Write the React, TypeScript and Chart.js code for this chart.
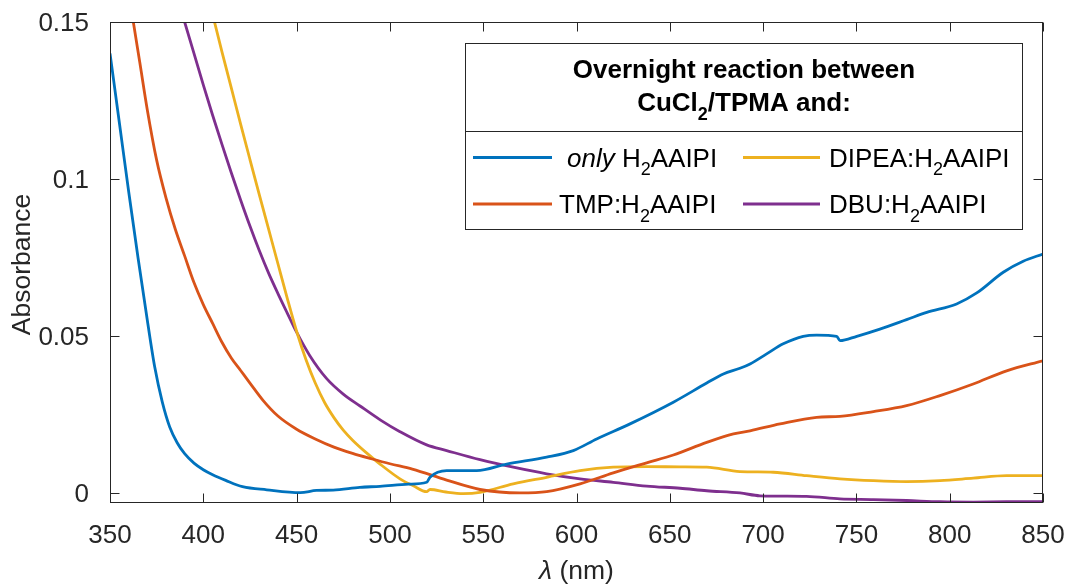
import React, { useEffect, useRef } from "react";
import { Chart, registerables } from "chart.js";

Chart.register(...registerables);

// ---------------- data ----------------
const xTicks = [350, 400, 450, 500, 550, 600, 650, 700, 750, 800, 850];
const yTicks = [0, 0.05, 0.1, 0.15];
const yTickLabels = ["0", "0.05", "0.1", "0.15"];

const blueNm = [350, 355, 360, 365, 370, 374, 378, 382, 386, 390, 395, 400, 405, 412, 421, 434, 452, 460.7, 469.6, 483.9, 494.7, 510, 519.7, 521.5, 530.4, 546.5, 562.6, 584.0, 598.3, 610.8, 628.7, 651.9, 669.8, 678.7, 687.6, 693.0, 701.9, 710.8, 721.5, 728.7, 739.4, 741.2, 750.2, 762.6, 776.9, 787.7, 803.7, 814.5, 828.7, 839.4, 850];
const blueAbs = [0.140, 0.118, 0.096, 0.075, 0.055, 0.040, 0.029, 0.021, 0.016, 0.0125, 0.0095, 0.0074, 0.0058, 0.0040, 0.0020, 0.0010, 0.0001, 0.0008, 0.0009, 0.0018, 0.0021, 0.0028, 0.0034, 0.0050, 0.0071, 0.0071, 0.0092, 0.0114, 0.0135, 0.0172, 0.0220, 0.0289, 0.0350, 0.0379, 0.0397, 0.0411, 0.0443, 0.0475, 0.0499, 0.0503, 0.0499, 0.0485, 0.0499, 0.0522, 0.0552, 0.0575, 0.0602, 0.0637, 0.0703, 0.0738, 0.0761];

const orangeNm = [360, 362.5, 366, 370, 375, 380, 385, 390, 395, 400, 405, 410, 415, 420, 425, 432, 440, 450, 460, 470, 480, 490, 500, 512, 530.4, 548.3, 569.7, 584.0, 601.9, 619.7, 637.6, 651.9, 669.8, 684.1, 693.0, 709.1, 728.7, 741.2, 759.1, 776.9, 794.8, 812.6, 830.5, 850];
const orangeAbs = [0.160, 0.150, 0.137, 0.122, 0.106, 0.094, 0.084, 0.0755, 0.067, 0.060, 0.054, 0.048, 0.043, 0.039, 0.035, 0.0295, 0.0245, 0.0203, 0.0172, 0.0146, 0.0126, 0.0109, 0.0093, 0.0076, 0.0041, 0.0011, 0.0000, 0.0004, 0.0029, 0.0064, 0.0096, 0.0121, 0.0161, 0.0188, 0.0198, 0.0220, 0.0241, 0.0244, 0.0259, 0.0278, 0.0310, 0.0347, 0.0389, 0.0421];

const yellowNm = [404, 406, 410, 415, 420, 425, 430, 435, 440, 445, 450, 455, 460, 465, 470, 475, 480, 487, 494.7, 505.4, 512.5, 519.7, 521.5, 530, 539.3, 548.3, 566.1, 584.0, 601.9, 619.7, 637.6, 655.5, 669.8, 687.6, 705.5, 723.3, 741.2, 759.1, 776.9, 794.8, 812.6, 830.5, 850];
const yellowAbs = [0.155, 0.150, 0.1405, 0.129, 0.1175, 0.1062, 0.095, 0.084, 0.073, 0.062, 0.0515, 0.0425, 0.035, 0.0288, 0.024, 0.020, 0.0168, 0.013, 0.0092, 0.0045, 0.0023, 0.0004, 0.0011, 0.0003, -0.0002, 0.0002, 0.0029, 0.0050, 0.0071, 0.0082, 0.0084, 0.0083, 0.0082, 0.0068, 0.0066, 0.0055, 0.0045, 0.0039, 0.0036, 0.0039, 0.0047, 0.0055, 0.0055];

const purpleNm = [388, 390, 395, 400, 405, 410, 415, 420, 425, 430, 435, 440, 445, 450, 457, 466, 475, 484, 495, 505.4, 519.7, 530.4, 548.3, 566.1, 584.0, 601.9, 619.7, 637.6, 655.5, 669.8, 687.6, 698.3, 723.3, 741.2, 759.1, 776.9, 794.8, 812.6, 830.5, 850];
const purpleAbs = [0.154, 0.150, 0.140, 0.130, 0.1203, 0.111, 0.102, 0.0933, 0.085, 0.0772, 0.070, 0.0635, 0.0573, 0.0512, 0.0438, 0.0365, 0.0315, 0.0277, 0.0232, 0.0195, 0.0153, 0.0135, 0.0106, 0.0082, 0.0061, 0.0045, 0.0034, 0.0022, 0.0015, 0.0007, 0.0000, -0.0009, -0.0011, -0.0019, -0.0021, -0.0024, -0.0028, -0.0029, -0.0028, -0.0028];

const seriesColors = ["#0072BD", "#D95319", "#EDB120", "#7E2F8E"];
const seriesNames = ["only H2AAIPI", "TMP:H2AAIPI", "DIPEA:H2AAIPI", "DBU:H2AAIPI"];

const FONT = "'Liberation Sans', Arial, Helvetica, sans-serif";
const AXIS_COLOR = "#262626";

type Seg = { t: string; italic?: boolean; bold?: boolean; sub?: boolean };

function segFont(s: Seg, size: number) {
  const sz = s.sub ? Math.round(size * 0.68) : size;
  return `${s.italic ? "italic " : ""}${s.bold ? "bold " : ""}${sz}px ${FONT}`;
}
function richWidth(ctx: CanvasRenderingContext2D, segs: Seg[], size: number) {
  let w = 0;
  for (const s of segs) {
    ctx.font = segFont(s, size);
    w += ctx.measureText(s.t).width;
  }
  return w;
}
function drawRich(ctx: CanvasRenderingContext2D, segs: Seg[], x: number, baseline: number, size: number) {
  let cx = x;
  ctx.textBaseline = "alphabetic";
  ctx.textAlign = "left";
  for (const s of segs) {
    ctx.font = segFont(s, size);
    ctx.fillText(s.t, cx, baseline + (s.sub ? size * 0.33 : 0));
    cx += ctx.measureText(s.t).width;
  }
}

const legendRows: { segs: Seg[]; color: number; col: number; row: number }[] = [
  { segs: [{ t: "only", italic: true }, { t: " H" }, { t: "2", sub: true }, { t: "AAIPI" }], color: 0, col: 0, row: 0 },
  { segs: [{ t: "TMP:H" }, { t: "2", sub: true }, { t: "AAIPI" }], color: 1, col: 0, row: 1 },
  { segs: [{ t: "DIPEA:H" }, { t: "2", sub: true }, { t: "AAIPI" }], color: 2, col: 1, row: 0 },
  { segs: [{ t: "DBU:H" }, { t: "2", sub: true }, { t: "AAIPI" }], color: 3, col: 1, row: 1 },
];

const LEG_SIZE = 26;

const framePlugin = {
  id: "matlabFrame",
  afterDatasetsDraw(chart: any) {
    const { ctx, chartArea: a, scales } = chart;
    const xs = scales.x;
    const ys = scales.y;
    ctx.save();
    // axes box
    ctx.strokeStyle = AXIS_COLOR;
    ctx.lineWidth = 1;
    const L = Math.round(a.left) + 0.5;
    const R = Math.round(a.right) - 0.5;
    const T = Math.round(a.top) + 0.5;
    const B = Math.round(a.bottom) - 0.5;
    ctx.strokeRect(L, T, R - L, B - T);
    const tl = 9;
    ctx.beginPath();
    for (const v of xTicks) {
      const px = Math.round(xs.getPixelForValue(v)) + 0.5;
      ctx.moveTo(px, B);
      ctx.lineTo(px, B - tl);
      ctx.moveTo(px, T);
      ctx.lineTo(px, T + tl);
    }
    for (const v of yTicks) {
      const py = Math.round(ys.getPixelForValue(v)) + 0.5;
      ctx.moveTo(L, py);
      ctx.lineTo(L + tl, py);
      ctx.moveTo(R, py);
      ctx.lineTo(R - tl, py);
    }
    ctx.stroke();

    // axis titles
    ctx.fillStyle = AXIS_COLOR;
    ctx.save();
    ctx.translate(23, (a.top + a.bottom) / 2 + 2);
    ctx.rotate(-Math.PI / 2);
    ctx.font = `26.5px ${FONT}`;
    ctx.textAlign = "center";
    ctx.textBaseline = "middle";
    ctx.fillText("Absorbance", 0, 0);
    ctx.restore();
    const xTitle: Seg[] = [{ t: "λ", italic: true }, { t: " (nm)" }];
    const xw = richWidth(ctx, xTitle, 26.5);
    drawRich(ctx, xTitle, (a.left + a.right) / 2 - xw / 2, 579, 26.5);

    // legend box
    const bx0 = 465.5, bx1 = 1022.5, by0 = 43.5, by1 = 229.5, div = 131.5;
    ctx.fillStyle = "#ffffff";
    ctx.fillRect(bx0, by0, bx1 - bx0, by1 - by0);
    ctx.strokeStyle = AXIS_COLOR;
    ctx.lineWidth = 1;
    ctx.strokeRect(bx0, by0, bx1 - bx0, by1 - by0);
    ctx.beginPath();
    ctx.moveTo(bx0, div);
    ctx.lineTo(bx1, div);
    ctx.stroke();

    ctx.fillStyle = "#000000";
    const cx = (bx0 + bx1) / 2;
    const t1: Seg[] = [{ t: "Overnight reaction between", bold: true }];
    const t2: Seg[] = [{ t: "CuCl", bold: true }, { t: "2", bold: true, sub: true }, { t: "/TPMA and:", bold: true }];
    drawRich(ctx, t1, cx - richWidth(ctx, t1, LEG_SIZE) / 2, 78, LEG_SIZE);
    drawRich(ctx, t2, cx - richWidth(ctx, t2, LEG_SIZE) / 2, 111, LEG_SIZE);

    const colLine = [[473, 552], [743, 820]];
    const colText = [[567, 559], [829, 829]];
    const rowY = [157.5, 204];
    for (const r of legendRows) {
      const y = rowY[r.row];
      ctx.strokeStyle = seriesColors[r.color];
      ctx.lineWidth = 2.8;
      ctx.beginPath();
      ctx.moveTo(colLine[r.col][0], y);
      ctx.lineTo(colLine[r.col][1], y);
      ctx.stroke();
      ctx.fillStyle = "#000000";
      drawRich(ctx, r.segs, colText[r.col][r.row], y + 9, LEG_SIZE);
    }
    ctx.restore();
  },
};

function pts(nm: number[], abs: number[]) {
  return nm.map((x, i) => ({ x, y: abs[i] }));
}

export default function App() {
  const ref = useRef<HTMLCanvasElement | null>(null);
  useEffect(() => {
    document.body.style.margin = "0";
    if (!ref.current) return;
    const data = [
      pts(blueNm, blueAbs),
      pts(orangeNm, orangeAbs),
      pts(yellowNm, yellowAbs),
      pts(purpleNm, purpleAbs),
    ];
    const chart = new Chart(ref.current, {
      type: "line",
      data: {
        datasets: data.map((d, i) => ({
          label: seriesNames[i],
          data: d,
          borderColor: seriesColors[i],
          backgroundColor: seriesColors[i],
          borderWidth: 2.8,
          pointRadius: 0,
          fill: false,
          cubicInterpolationMode: "monotone" as const,
        })),
      },
      options: {
        responsive: false,
        animation: false,
        layout: { padding: { top: 22, right: 24, left: 0, bottom: 0 } },
        plugins: { legend: { display: false }, tooltip: { enabled: false } },
        scales: {
          x: {
            type: "linear",
            min: 350,
            max: 850,
            grid: { display: false },
            border: { display: false },
            afterBuildTicks: (axis: any) => {
              axis.ticks = xTicks.map((v) => ({ value: v }));
            },
            afterFit: (axis: any) => {
              axis.height = 82;
              axis.paddingLeft = 0;
              axis.paddingRight = 0;
            },
            ticks: {
              autoSkip: false,
              maxRotation: 0,
              padding: 9,
              color: AXIS_COLOR,
              font: { family: FONT, size: 26 },
              callback: (v: any) => String(v),
            },
          },
          y: {
            type: "linear",
            min: -0.0032,
            max: 0.15,
            grid: { display: false },
            border: { display: false },
            afterBuildTicks: (axis: any) => {
              axis.ticks = yTicks.map((v) => ({ value: v }));
            },
            afterFit: (axis: any) => {
              axis.width = 110;
              axis.paddingTop = 0;
              axis.paddingBottom = 0;
            },
            ticks: {
              padding: 13,
              labelOffset: 2,
              color: AXIS_COLOR,
              font: { family: FONT, size: 26 },
              callback: (v: any) => {
                const i = yTicks.findIndex((t) => Math.abs(t - Number(v)) < 1e-9);
                return i >= 0 ? yTickLabels[i] : "";
              },
            },
          },
        },
      },
      plugins: [framePlugin],
    });
    return () => chart.destroy();
  }, []);
  return (
    <div style={{ width: 1067, height: 585, background: "#fff" }}>
      <canvas ref={ref} width={1067} height={585} style={{ display: "block" }} />
    </div>
  );
}
